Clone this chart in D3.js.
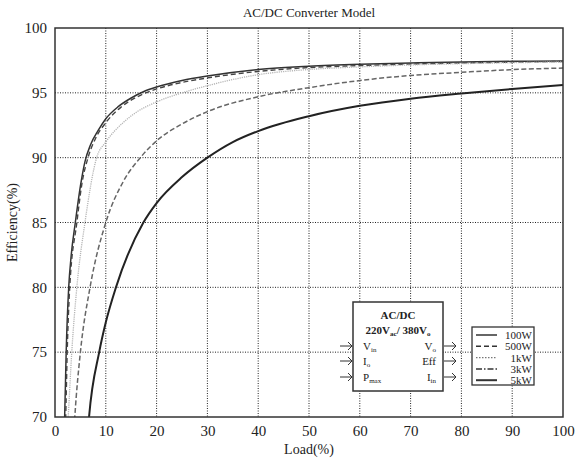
<!DOCTYPE html>
<html>
<head>
<meta charset="utf-8">
<script src="https://cdn.jsdelivr.net/npm/d3@7"></script>
<style>
  body { margin: 0; background: #fff; }
  text { font-family: "Liberation Serif", "DejaVu Serif", serif; fill: #222; }
</style>
</head>
<body>
<div id="chart"></div>
<script>
// load (%) / efficiency (%)
var seriesNames = ["100W", "500W", "1kW", "3kW", "5kW"];
var eff100W = [[1.6,68],[1.9,70],[2.2,75],[2.7,80],[3.2,82.5],[4.0,85],[5.0,87.8],[5.9,89.7],[7,91.0],[8.5,92.1],[10,93.0],[12.5,93.95],[15,94.6],[17.5,95.1],[20,95.45],[25,95.95],[30,96.3],[40,96.8],[50,97.05],[60,97.2],[70,97.3],[80,97.38],[90,97.43],[100,97.46]];
var eff500W = [[1.8,68],[2.1,70],[2.4,75],[2.9,80],[4.3,85],[5.3,88],[6.5,90],[8,91.5],[10,92.7],[13,93.9],[17,94.85],[20,95.3],[25,95.8],[30,96.15],[40,96.65],[50,96.95],[60,97.1],[70,97.22],[80,97.3],[90,97.37],[100,97.42]];
var eff1kW = [[2.3,68],[2.6,70],[3.3,75],[4.3,80],[5.9,85],[8.2,90],[10,91.2],[13.4,92.7],[16,93.5],[20,94.3],[25,95.0],[30,95.55],[40,96.4],[50,96.8],[60,97.0],[70,97.15],[80,97.25],[90,97.32],[100,97.38]];
var eff3kW = [[3.6,68],[3.9,70],[5.0,75],[6.9,80],[10,85],[13.5,88.2],[16.8,90],[20,91.3],[25,92.6],[30,93.55],[40,94.7],[50,95.4],[60,95.95],[70,96.34],[80,96.58],[90,96.79],[100,96.91]];
var eff5kW = [[6.3,68],[6.7,70],[8.7,75],[10,77.3],[12,80],[17.4,85],[20,86.5],[25,88.5],[30,90.0],[35,91.2],[40,92.05],[50,93.2],[60,94.0],[70,94.55],[80,94.95],[90,95.3],[100,95.6]];
var xTicks = [0,10,20,30,40,50,60,70,80,90,100];
var yTicks = [70,75,80,85,90,95,100];

var allSeries = [eff100W, eff500W, eff1kW, eff3kW, eff5kW];
var seriesStyle = [
	{ stroke: "#333", width: 1.5, dash: null, legDash: null },
	{ stroke: "#444", width: 1.4, dash: "5,3", legDash: "5,3" },
	{ stroke: "#b5b5b5", width: 1.3, dash: "1.2,1", legDash: "1.5,1.5" },
	{ stroke: "#666", width: 1.5, dash: "5,2.5", legDash: "6,2,1.5,2" },
	{ stroke: "#222", width: 2, dash: null, legDash: null }
];

var W = 576, H = 458;
var L = 55, R = 563, T = 28, B = 417;

var svg = d3.select("#chart").append("svg")
			.attr("width", W)
			.attr("height", H);

var x = d3.scaleLinear().domain([0, 100]).range([L, R]);
var y = d3.scaleLinear().domain([70, 100]).range([B, T]);

svg.append("defs").append("clipPath").attr("id", "plotclip")
	.append("rect").attr("x", L).attr("y", T).attr("width", R - L).attr("height", B - T);

// grid
svg.append("g").selectAll("line").data(xTicks.slice(1, -1)).enter().append("line")
	.attr("x1", function(d) { return x(d); }).attr("x2", function(d) { return x(d); })
	.attr("y1", T).attr("y2", B)
	.style("stroke", "#222").style("stroke-width", 1).style("stroke-dasharray", "1,1.5");
svg.append("g").selectAll("line").data(yTicks.slice(1, -1)).enter().append("line")
	.attr("y1", function(d) { return y(d); }).attr("y2", function(d) { return y(d); })
	.attr("x1", L).attr("x2", R)
	.style("stroke", "#222").style("stroke-width", 1).style("stroke-dasharray", "1,1.5");

// axes
var xAxis = svg.append("g").attr("transform", "translate(0," + B + ")")
	.call(d3.axisBottom(x).tickValues(xTicks).tickSize(0).tickPadding(8));
var yAxis = svg.append("g").attr("transform", "translate(" + L + ",0)")
	.call(d3.axisLeft(y).tickValues(yTicks).tickSize(0).tickPadding(8));
[xAxis, yAxis].forEach(function(a) {
	a.select(".domain").remove();
	a.selectAll("text").style("font-size", "15px").style("font-family", "Liberation Serif, serif").attr("fill", "#2a3040");
});

// curves
var line = d3.line()
	.x(function(d) { return x(d[0]); })
	.y(function(d) { return y(d[1]); })
	.curve(d3.curveMonotoneX);

svg.append("g").attr("clip-path", "url(#plotclip)")
	.selectAll("path").data(allSeries).enter().append("path")
	.attr("d", line)
	.style("fill", "none")
	.style("stroke", function(d, i) { return seriesStyle[i].stroke; })
	.style("stroke-width", function(d, i) { return seriesStyle[i].width; })
	.style("stroke-dasharray", function(d, i) { return seriesStyle[i].dash; });

// frame
svg.append("rect").attr("x", L).attr("y", T).attr("width", R - L).attr("height", B - T)
	.style("fill", "none").style("stroke", "#333").style("stroke-width", 1.5);

// titles
svg.append("text").attr("x", (L + R) / 2).attr("y", 17).attr("text-anchor", "middle")
	.style("font-size", "13px").text("AC/DC Converter Model");
svg.append("text").attr("x", (L + R) / 2).attr("y", 454).attr("text-anchor", "middle")
	.style("font-size", "14px").text("Load(%)");
svg.append("text").attr("transform", "translate(17," + ((T + B) / 2) + ") rotate(-90)")
	.attr("text-anchor", "middle").style("font-size", "14px").text("Efficiency(%)");

// converter block
var blk = svg.append("g");
blk.append("rect").attr("x", 353).attr("y", 302).attr("width", 90).attr("height", 89)
	.style("fill", "#fff").style("stroke", "#333").style("stroke-width", 1.5);
blk.append("text").attr("x", 398).attr("y", 319).attr("text-anchor", "middle")
	.style("font-size", "11px").style("font-weight", "bold").text("AC/DC");
var t2 = blk.append("text").attr("x", 398).attr("y", 334).attr("text-anchor", "middle")
	.style("font-size", "11px").style("font-weight", "bold");
t2.append("tspan").text("220V");
t2.append("tspan").attr("dy", 2).style("font-size", "7px").text("ac");
t2.append("tspan").attr("dy", -2).text("/ 380V");
t2.append("tspan").attr("dy", 2).style("font-size", "7px").text("o");

var rowsY = [350, 365, 381];
var inNames = [["V", "in"], ["I", "o"], ["P", "max"]];
var outNames = [["V", "o"], ["Eff", ""], ["I", "in"]];
rowsY.forEach(function(ry, i) {
	var a = blk.append("text").attr("x", 363).attr("y", ry).style("font-size", "11px");
	a.append("tspan").text(inNames[i][0]);
	a.append("tspan").attr("dy", 2).style("font-size", "7px").text(inNames[i][1]);
	var b = blk.append("text").attr("x", 436).attr("y", ry).attr("text-anchor", "end").style("font-size", "11px");
	b.append("tspan").text(outNames[i][0]);
	if (outNames[i][1]) b.append("tspan").attr("dy", 2).style("font-size", "7px").text(outNames[i][1]);
	// arrows
	[[340, 352], [444, 456]].forEach(function(p) {
		blk.append("line").attr("x1", p[0]).attr("x2", p[1]).attr("y1", ry - 4).attr("y2", ry - 4)
			.style("stroke", "#333").style("stroke-width", 1);
		blk.append("path").attr("d", "M" + (p[1] - 4) + "," + (ry - 8) + "L" + p[1] + "," + (ry - 4) + "L" + (p[1] - 4) + "," + (ry))
			.style("fill", "none").style("stroke", "#333").style("stroke-width", 1);
	});
});

// legend
var leg = svg.append("g");
leg.append("rect").attr("x", 472).attr("y", 327).attr("width", 62).attr("height", 58)
	.style("fill", "#fff").style("stroke", "#333").style("stroke-width", 1.3);
var legRows = leg.selectAll("g").data(seriesNames).enter().append("g")
	.attr("transform", function(d, i) { return "translate(0," + (335 + i * 11.3) + ")"; });
legRows.append("line").attr("x1", 476).attr("x2", 497).attr("y1", 0).attr("y2", 0)
	.style("stroke", function(d, i) { return i == 2 ? "#777" : "#333"; })
	.style("stroke-width", function(d, i) { return seriesStyle[i].width; })
	.style("stroke-dasharray", function(d, i) { return seriesStyle[i].legDash; });
legRows.append("text").attr("x", 532).attr("y", 4).attr("text-anchor", "end")
	.style("font-size", "11px").text(function(d) { return d; });
</script>
</body>
</html>
